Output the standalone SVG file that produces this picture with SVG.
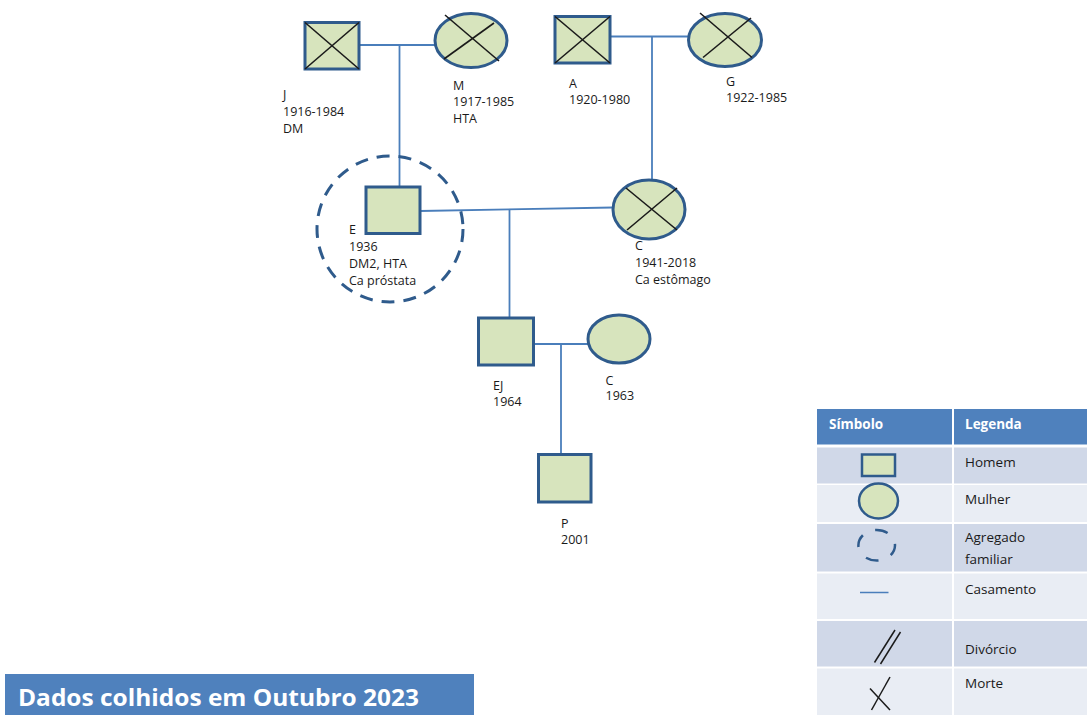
<svg xmlns="http://www.w3.org/2000/svg" width="1087" height="715" viewBox="0 0 1087 715">
  <style>
    .sq { fill: #D7E4BD; stroke: #2F5B8C; stroke-width: 3; }
    .el { fill: #D7E4BD; stroke: #2F5B8C; stroke-width: 3; }
    .x { stroke: #1a1a1a; stroke-width: 1.6; fill: none; }
    .link { stroke: #4A7EBB; stroke-width: 1.8; fill: none; }
    .dash { fill: none; stroke: #2F5B8C; stroke-width: 3; stroke-dasharray: 13 9; }
    .lbl { font-family: "Open Sans", "Liberation Sans", sans-serif; font-size: 12.5px; fill: #1a1a1a; }
    .leg { font-family: "Open Sans", "Liberation Sans", sans-serif; font-size: 13.5px; fill: #1a1a1a; }
    .hdr { font-family: "Open Sans", "Liberation Sans", sans-serif; font-size: 13.5px; font-weight: bold; fill: #ffffff; }
    .dark { fill: #D0D8E8; }
    .light { fill: #E9EDF4; }
  </style>
  <rect width="1087" height="715" fill="#ffffff"/>

  <!-- connectors -->
  <g id="connectors">
    <line class="link" x1="359" y1="45" x2="435" y2="45"/>
    <line class="link" x1="399.5" y1="45" x2="399.5" y2="187"/>
    <line class="link" x1="610" y1="36.5" x2="688" y2="36.5"/>
    <line class="link" x1="652" y1="36.5" x2="652" y2="180"/>
    <line class="link" x1="420" y1="211" x2="613" y2="207.5"/>
    <line class="link" x1="509.5" y1="209" x2="509.5" y2="318"/>
    <line class="link" x1="533" y1="344" x2="588" y2="344"/>
    <line class="link" x1="561" y1="344" x2="561" y2="454"/>
  </g>

  <!-- household boundary -->
  <g id="household">
    <circle class="dash" cx="390" cy="229" r="73"/>
  </g>

  <g id="node-J">
    <rect class="sq" x="305" y="22.5" width="54" height="46.5"/>
    <line class="x" x1="305" y1="22.5" x2="359" y2="69"/>
    <line class="x" x1="359" y1="22.5" x2="305" y2="69"/>
    <text class="lbl" x="283" y="98.5">J</text>
    <text class="lbl" x="283" y="115.5">1916-1984</text>
    <text class="lbl" x="283" y="132.5">DM</text>
  </g>

  <g id="node-M">
    <ellipse class="el" cx="471" cy="40.5" rx="36" ry="27"/>
    <line class="x" x1="445" y1="15" x2="499" y2="61"/>
    <line class="x" x1="494" y1="23" x2="444" y2="59"/>
    <text class="lbl" x="453" y="89.5">M</text>
    <text class="lbl" x="453" y="106">1917-1985</text>
    <text class="lbl" x="453" y="123">HTA</text>
  </g>

  <g id="node-A">
    <rect class="sq" x="555" y="16.5" width="55" height="46.5"/>
    <line class="x" x1="555" y1="16.5" x2="610" y2="63"/>
    <line class="x" x1="610" y1="16.5" x2="555" y2="63"/>
    <text class="lbl" x="569" y="87.5">A</text>
    <text class="lbl" x="569" y="104">1920-1980</text>
  </g>

  <g id="node-G">
    <ellipse class="el" cx="725" cy="40" rx="36.5" ry="26.5"/>
    <line class="x" x1="700" y1="13" x2="752" y2="57.5"/>
    <line class="x" x1="751" y1="18" x2="703" y2="57.5"/>
    <text class="lbl" x="726" y="86">G</text>
    <text class="lbl" x="726" y="102">1922-1985</text>
  </g>

  <g id="node-E">
    <rect class="sq" x="366" y="187" width="54" height="46.5"/>
    <text class="lbl" x="349" y="234">E</text>
    <text class="lbl" x="349" y="250.5">1936</text>
    <text class="lbl" x="349" y="268">DM2, HTA</text>
    <text class="lbl" x="349" y="285">Ca próstata</text>
  </g>

  <g id="node-C1941">
    <ellipse class="el" cx="649" cy="209.5" rx="36" ry="29.5"/>
    <line class="x" x1="626" y1="188" x2="677" y2="230"/>
    <line class="x" x1="677" y1="188" x2="627" y2="230"/>
    <text class="lbl" x="635" y="250">C</text>
    <text class="lbl" x="635" y="267">1941-2018</text>
    <text class="lbl" x="635" y="284">Ca estômago</text>
  </g>

  <g id="node-EJ">
    <rect class="sq" x="478.5" y="318" width="55" height="47"/>
    <text class="lbl" x="493" y="389.5">EJ</text>
    <text class="lbl" x="493" y="406">1964</text>
  </g>

  <g id="node-C1963">
    <ellipse class="el" cx="619" cy="339" rx="31" ry="24"/>
    <text class="lbl" x="605.5" y="384.5">C</text>
    <text class="lbl" x="605.5" y="400">1963</text>
  </g>

  <g id="node-P">
    <rect class="sq" x="538.5" y="454.5" width="52.5" height="47.5"/>
    <text class="lbl" x="561" y="527.5">P</text>
    <text class="lbl" x="561" y="544">2001</text>
  </g>

  <!-- legend table -->
  <g id="legend">
    <rect x="817" y="409" width="135" height="35.5" fill="#4F81BD"/>
    <rect x="954" y="409" width="133" height="35.5" fill="#4F81BD"/>
    <text class="hdr" x="829" y="428.5">Símbolo</text>
    <text class="hdr" x="965" y="428.5">Legenda</text>

    <rect class="dark" x="817" y="447.5" width="135" height="36"/>
    <rect class="dark" x="954" y="447.5" width="133" height="36"/>
    <rect class="light" x="817" y="485" width="135" height="37"/>
    <rect class="light" x="954" y="485" width="133" height="37"/>
    <rect class="dark" x="817" y="524" width="135" height="47.5"/>
    <rect class="dark" x="954" y="524" width="133" height="47.5"/>
    <rect class="light" x="817" y="573.5" width="135" height="45.5"/>
    <rect class="light" x="954" y="573.5" width="133" height="45.5"/>
    <rect class="dark" x="817" y="621" width="135" height="45.5"/>
    <rect class="dark" x="954" y="621" width="133" height="45.5"/>
    <rect class="light" x="817" y="668.5" width="135" height="46.5"/>
    <rect class="light" x="954" y="668.5" width="133" height="46.5"/>

    <rect x="862" y="454.5" width="33" height="21.5" fill="#D7E4BD" stroke="#2F5B8C" stroke-width="2.5"/>
    <text class="leg" x="965" y="467">Homem</text>

    <ellipse cx="878.5" cy="501" rx="19.5" ry="17.5" fill="#D7E4BD" stroke="#2F5B8C" stroke-width="2.5"/>
    <text class="leg" x="965" y="504">Mulher</text>

    <ellipse cx="876.7" cy="545.3" rx="18.3" ry="15.3" fill="none" stroke="#2F5B8C" stroke-width="2.5" stroke-dasharray="13 13.4" stroke-dashoffset="2"/>
    <text class="leg" x="965" y="542">Agregado</text>
    <text class="leg" x="965" y="563.5">familiar</text>

    <line x1="860" y1="592.5" x2="888.5" y2="592.5" stroke="#4A7EBB" stroke-width="1.5"/>
    <text class="leg" x="965" y="593.5">Casamento</text>

    <line x1="895" y1="630" x2="874.5" y2="662.5" stroke="#1a1a1a" stroke-width="1.5"/>
    <line x1="900.5" y1="632" x2="880.5" y2="664" stroke="#1a1a1a" stroke-width="1.5"/>
    <text class="leg" x="965" y="653.5">Divórcio</text>

    <line x1="890" y1="677" x2="871.5" y2="710" stroke="#1a1a1a" stroke-width="1.5"/>
    <line x1="870" y1="688.5" x2="890" y2="710" stroke="#1a1a1a" stroke-width="1.5"/>
    <text class="leg" x="965" y="687.5">Morte</text>
  </g>

  <!-- date banner -->
  <g id="banner">
    <rect x="5" y="674" width="469" height="41" fill="#4F81BD"/>
    <text x="18" y="705.5" font-family="'Open Sans', 'Liberation Sans', sans-serif" font-size="24" font-weight="bold" fill="#ffffff" textLength="401" lengthAdjust="spacingAndGlyphs">Dados colhidos em Outubro 2023</text>
  </g>
</svg>
